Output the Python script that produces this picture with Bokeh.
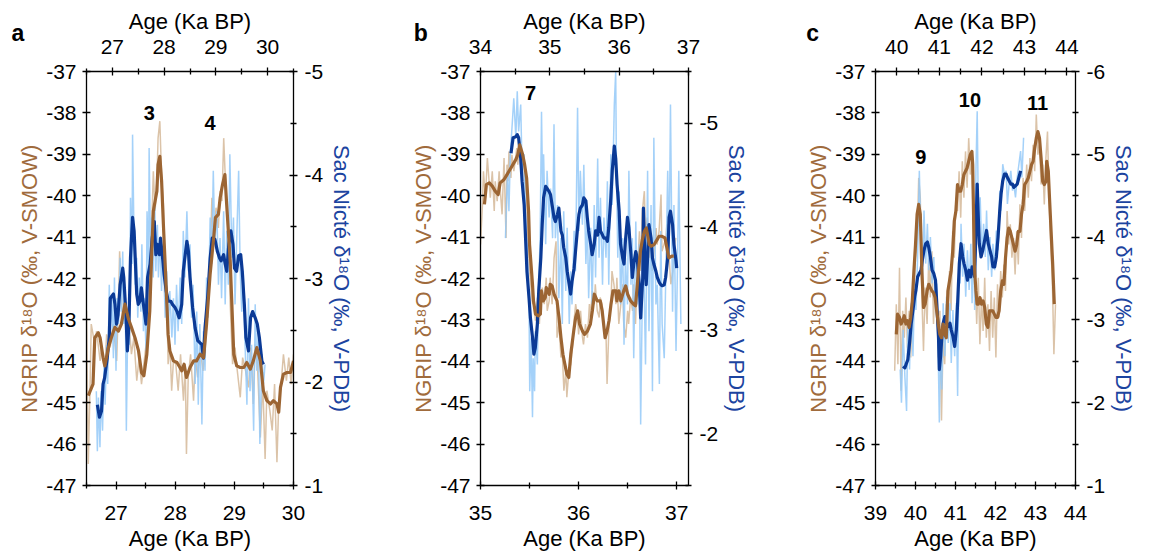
from bokeh.plotting import figure
from bokeh.models import Range1d, LinearAxis, FixedTicker, Label
from bokeh.layouts import row
from bokeh.embed import file_html
from bokeh.resources import INLINE

# ---------------- data (age ka BP, d18O permil) ----------------
# Panel a: NGRIP on bottom age axis / left axis; Sac Nicte on top age axis / right axis
A_NGRIP_RAW = [(26.50,-42.78),(26.53,-46.48),(26.56,-44.63),(26.58,-43.10),(26.64,-43.59),(26.67,-43.27),(26.73,-43.99),(26.75,-43.67),(26.81,-44.23),(26.84,-43.35),(26.90,-43.67),(26.95,-43.10),(27.01,-43.99),(27.04,-42.62),(27.06,-41.34),(27.11,-43.02),(27.15,-42.46),(27.19,-43.43),(27.22,-43.10),(27.26,-43.83),(27.30,-43.43),(27.35,-44.47),(27.39,-43.91),(27.43,-44.55),(27.47,-44.07),(27.52,-43.43),(27.56,-42.14),(27.60,-40.86),(27.63,-39.41),(27.66,-40.37),(27.69,-39.65),(27.71,-38.61),(27.74,-38.20),(27.77,-39.57),(27.80,-40.21),(27.83,-42.14),(27.86,-42.62),(27.88,-44.07),(27.91,-43.59),(27.94,-44.71),(27.97,-43.99),(28.01,-44.07),(28.05,-44.71),(28.09,-43.83),(28.14,-44.95),(28.17,-44.07),(28.19,-46.24),(28.22,-44.39),(28.26,-43.83),(28.31,-44.95),(28.34,-43.91),(28.38,-44.39),(28.42,-43.67),(28.47,-44.23),(28.51,-43.59),(28.55,-42.78),(28.59,-41.66),(28.62,-40.05),(28.65,-41.18),(28.69,-40.29),(28.73,-40.78),(28.76,-39.89),(28.79,-40.13),(28.82,-38.61),(28.84,-39.33),(28.87,-40.13),(28.90,-41.02),(28.93,-42.62),(28.97,-44.07),(29.01,-43.67),(29.05,-44.23),(29.10,-44.87),(29.14,-43.91),(29.19,-44.23),(29.24,-44.63),(29.28,-43.67),(29.32,-45.03),(29.35,-43.59),(29.39,-44.07),(29.44,-45.84),(29.48,-44.47),(29.52,-46.36),(29.55,-44.71),(29.60,-45.19),(29.64,-45.67),(29.68,-44.55),(29.72,-46.44),(29.75,-45.03),(29.79,-44.55),(29.83,-43.83),(29.88,-44.47),(29.92,-43.91),(29.96,-44.55),(30.00,-43.83)]
A_NGRIP_SMOOTH = [(26.53,-44.83),(26.61,-44.55),(26.64,-43.43),(26.70,-43.31),(26.73,-43.43),(26.78,-43.91),(26.81,-44.11),(26.87,-43.67),(26.92,-43.43),(26.98,-43.18),(27.04,-43.27),(27.09,-43.10),(27.15,-42.62),(27.21,-42.98),(27.26,-43.18),(27.32,-43.43),(27.38,-43.75),(27.43,-44.27),(27.47,-44.35),(27.52,-43.83),(27.57,-42.78),(27.60,-41.50),(27.63,-40.37),(27.66,-40.13),(27.69,-39.89),(27.71,-39.25),(27.74,-39.05),(27.77,-39.65),(27.80,-40.69),(27.84,-41.98),(27.88,-43.35),(27.91,-43.75),(27.97,-43.99),(28.03,-44.03),(28.08,-44.15),(28.11,-44.23),(28.15,-44.07),(28.19,-44.39),(28.25,-44.15),(28.31,-43.99),(28.36,-43.99),(28.42,-43.83),(28.48,-43.91),(28.53,-43.10),(28.59,-41.90),(28.65,-41.02),(28.68,-40.53),(28.73,-40.45),(28.76,-40.05),(28.80,-39.73),(28.84,-39.49),(28.87,-40.21),(28.93,-41.58),(28.99,-43.83),(29.04,-44.11),(29.10,-44.15),(29.16,-44.15),(29.21,-44.03),(29.27,-44.19),(29.32,-43.99),(29.38,-43.67),(29.44,-43.99),(29.49,-44.71),(29.55,-44.95),(29.61,-45.03),(29.66,-44.95),(29.72,-45.03),(29.75,-45.23),(29.78,-44.63),(29.83,-44.31),(29.89,-44.27),(29.95,-44.27),(30.00,-43.99)]
A_SAC_RAW = [(26.69,-1.91),(26.71,-1.33),(26.73,-1.85),(26.76,-1.37),(26.78,-1.91),(26.81,-1.53),(26.84,-2.17),(26.86,-1.78),(26.89,-2.36),(26.91,-1.98),(26.94,-2.94),(26.96,-2.49),(26.99,-2.81),(27.02,-2.23),(27.04,-3.01),(27.07,-2.11),(27.09,-2.81),(27.12,-2.56),(27.15,-3.20),(27.17,-2.68),(27.20,-3.26),(27.22,-2.56),(27.25,-2.81),(27.27,-1.53),(27.30,-2.68),(27.33,-2.36),(27.35,-3.78),(27.38,-3.14),(27.39,-4.39),(27.42,-3.33),(27.44,-2.94),(27.47,-3.20),(27.49,-2.62),(27.52,-3.01),(27.55,-2.68),(27.57,-3.33),(27.60,-2.49),(27.62,-2.81),(27.65,-2.30),(27.67,-3.65),(27.70,-3.07),(27.71,-4.26),(27.74,-3.20),(27.76,-3.59),(27.79,-3.01),(27.82,-3.71),(27.84,-3.07),(27.87,-3.52),(27.89,-3.01),(27.92,-3.39),(27.95,-2.88),(27.98,-3.33),(28.02,-2.62),(28.05,-3.07),(28.08,-2.49),(28.11,-2.88),(28.15,-2.43),(28.18,-2.81),(28.21,-2.36),(28.24,-2.94),(28.27,-2.49),(28.31,-3.01),(28.34,-2.56),(28.37,-3.46),(28.40,-3.01),(28.44,-3.65),(28.47,-3.07),(28.50,-3.33),(28.53,-2.62),(28.56,-2.94),(28.60,-1.98),(28.63,-2.68),(28.66,-1.78),(28.69,-2.56),(28.73,-1.59),(28.76,-2.49),(28.79,-2.11),(28.82,-3.01),(28.85,-2.62),(28.89,-3.59),(28.92,-3.14),(28.95,-4.04),(28.98,-3.33),(29.02,-3.65),(29.05,-2.94),(29.08,-3.39),(29.11,-2.81),(29.15,-3.65),(29.18,-2.75),(29.21,-3.46),(29.24,-2.94),(29.27,-4.20),(29.31,-3.20),(29.34,-3.59),(29.37,-2.75),(29.40,-3.33),(29.44,-4.04),(29.47,-3.07),(29.50,-2.68),(29.53,-3.07),(29.56,-2.43),(29.60,-1.78),(29.63,-2.81),(29.66,-1.91),(29.69,-2.36),(29.73,-1.53),(29.76,-2.75),(29.79,-2.11),(29.82,-2.49),(29.85,-1.40),(29.89,-2.27),(29.92,-1.98),(29.95,-2.17)]
A_SAC_SMOOTH = [(26.71,-1.78),(26.75,-1.66),(26.79,-1.72),(26.82,-1.98),(26.85,-2.04),(26.90,-2.23),(26.94,-2.43),(26.96,-2.81),(27.02,-2.85),(27.05,-2.75),(27.08,-2.56),(27.11,-2.65),(27.15,-2.94),(27.20,-3.10),(27.22,-3.01),(27.26,-2.68),(27.29,-2.30),(27.32,-2.56),(27.35,-3.20),(27.39,-3.59),(27.42,-3.46),(27.47,-2.85),(27.50,-2.75),(27.53,-2.78),(27.56,-2.91),(27.60,-2.75),(27.65,-2.56),(27.68,-3.01),(27.73,-3.14),(27.77,-3.39),(27.81,-3.55),(27.84,-3.23),(27.87,-3.33),(27.91,-3.23),(27.93,-3.39),(27.97,-3.20),(28.00,-3.04),(28.04,-2.88),(28.08,-2.78),(28.13,-2.78),(28.16,-2.75),(28.21,-2.72),(28.25,-2.68),(28.29,-2.62),(28.34,-2.75),(28.37,-3.07),(28.40,-3.20),(28.44,-3.36),(28.47,-3.26),(28.50,-3.01),(28.55,-2.72),(28.60,-2.52),(28.65,-2.40),(28.69,-2.38),(28.73,-2.36),(28.76,-2.23),(28.79,-2.52),(28.84,-2.81),(28.89,-3.20),(28.93,-3.39),(28.98,-3.38),(29.03,-3.26),(29.07,-3.20),(29.10,-3.17),(29.15,-3.23),(29.18,-3.14),(29.21,-3.07),(29.25,-3.33),(29.29,-3.46),(29.33,-3.33),(29.36,-3.10),(29.40,-3.07),(29.44,-3.22),(29.48,-3.23),(29.51,-3.07),(29.55,-2.75),(29.58,-2.43),(29.63,-2.30),(29.67,-2.62),(29.71,-2.68),(29.76,-2.62),(29.80,-2.56),(29.84,-2.43),(29.89,-2.20),(29.92,-2.17)]

# Panel b
B_NGRIP_RAW = [(35.00,-41.18),(35.02,-40.21),(35.03,-39.41),(35.05,-40.05),(35.07,-39.09),(35.09,-39.73),(35.10,-40.05),(35.12,-39.41),(35.14,-40.37),(35.15,-39.65),(35.17,-40.13),(35.19,-39.41),(35.20,-39.81),(35.22,-40.45),(35.24,-39.09),(35.26,-41.02),(35.27,-39.25),(35.28,-39.65),(35.29,-38.93),(35.31,-39.57),(35.32,-39.01),(35.34,-39.41),(35.37,-38.85),(35.38,-39.25),(35.40,-38.69),(35.41,-39.33),(35.44,-39.09),(35.45,-39.57),(35.47,-40.05),(35.48,-40.86),(35.50,-41.82),(35.53,-42.62),(35.54,-42.46),(35.56,-43.02),(35.58,-42.46),(35.60,-43.10),(35.61,-42.62),(35.63,-42.22),(35.65,-42.62),(35.67,-41.98),(35.68,-42.78),(35.70,-42.54),(35.71,-41.98),(35.73,-42.62),(35.75,-41.50),(35.77,-41.10),(35.78,-43.43),(35.80,-43.10),(35.82,-43.91),(35.83,-43.59),(35.85,-44.71),(35.87,-44.23),(35.88,-44.87),(35.90,-44.23),(35.92,-44.07),(35.94,-43.59),(35.95,-43.10),(35.97,-42.62),(35.99,-42.94),(36.00,-43.35),(36.02,-42.78),(36.04,-43.43),(36.05,-43.59),(36.07,-43.10),(36.09,-43.43),(36.11,-42.62),(36.12,-42.94),(36.14,-42.30),(36.16,-42.62),(36.17,-42.14),(36.19,-42.78),(36.21,-42.94),(36.22,-42.46),(36.24,-42.62),(36.26,-43.27),(36.28,-43.43),(36.29,-44.55),(36.31,-43.10),(36.33,-42.62),(36.34,-41.82),(36.36,-42.14),(36.38,-42.62),(36.39,-41.98),(36.41,-43.10),(36.43,-42.62),(36.45,-42.14),(36.46,-43.10),(36.48,-43.43),(36.50,-42.78),(36.51,-43.10),(36.53,-42.46),(36.55,-42.78),(36.56,-42.14),(36.58,-43.10),(36.60,-41.82),(36.62,-40.86),(36.63,-41.82),(36.65,-40.37),(36.67,-39.89),(36.68,-40.86),(36.70,-40.53),(36.72,-41.50),(36.73,-41.02),(36.75,-41.82),(36.77,-41.34),(36.79,-40.78),(36.80,-41.18),(36.82,-40.86),(36.84,-39.97),(36.85,-41.34),(36.87,-41.18),(36.89,-41.02),(36.90,-40.69),(36.94,-42.14),(36.96,-41.82),(36.97,-41.34),(36.99,-41.02)]
B_NGRIP_SMOOTH = [(35.04,-40.21),(35.06,-39.73),(35.09,-39.69),(35.12,-39.77),(35.15,-39.89),(35.18,-39.97),(35.20,-39.69),(35.22,-39.65),(35.24,-39.61),(35.27,-39.49),(35.29,-39.41),(35.31,-39.33),(35.33,-39.25),(35.36,-39.13),(35.38,-39.01),(35.40,-38.77),(35.43,-39.01),(35.45,-39.25),(35.47,-39.57),(35.49,-40.37),(35.50,-41.18),(35.53,-42.14),(35.54,-42.54),(35.56,-42.86),(35.59,-42.90),(35.61,-42.86),(35.62,-42.30),(35.64,-42.54),(35.66,-42.46),(35.67,-42.22),(35.70,-42.38),(35.71,-42.14),(35.73,-42.18),(35.75,-42.38),(35.78,-42.54),(35.80,-42.94),(35.82,-43.43),(35.84,-43.83),(35.86,-44.07),(35.88,-44.31),(35.90,-44.39),(35.92,-43.83),(35.95,-43.27),(35.97,-42.94),(35.99,-42.78),(36.01,-43.10),(36.04,-43.27),(36.06,-43.35),(36.09,-43.27),(36.12,-43.10),(36.14,-42.78),(36.16,-42.38),(36.19,-42.54),(36.22,-42.54),(36.24,-42.78),(36.27,-43.43),(36.29,-43.27),(36.31,-43.02),(36.33,-42.62),(36.35,-42.30),(36.38,-42.30),(36.39,-42.54),(36.41,-42.30),(36.43,-42.54),(36.46,-42.30),(36.48,-42.18),(36.50,-42.38),(36.53,-42.54),(36.56,-42.62),(36.58,-42.66),(36.61,-41.82),(36.63,-41.34),(36.65,-41.06),(36.67,-40.86),(36.69,-40.78),(36.72,-41.18),(36.74,-41.22),(36.77,-41.18),(36.80,-41.06),(36.82,-40.98),(36.85,-40.98),(36.88,-41.02),(36.90,-41.26),(36.92,-41.50),(36.95,-41.46),(36.97,-41.46)]
B_SAC_RAW = [(34.36,-3.89),(34.39,-4.54),(34.41,-4.15),(34.43,-4.70),(34.46,-5.02),(34.48,-5.24),(34.51,-4.86),(34.53,-5.31),(34.55,-4.92),(34.58,-5.18),(34.60,-4.54),(34.63,-4.70),(34.65,-4.05),(34.67,-3.83),(34.70,-3.25),(34.71,-2.41),(34.73,-2.93),(34.75,-2.16),(34.76,-2.73),(34.78,-2.41),(34.79,-2.99),(34.82,-2.67),(34.84,-3.44),(34.86,-3.89),(34.88,-5.11),(34.90,-4.15),(34.91,-4.70),(34.94,-3.83),(34.96,-4.54),(34.99,-4.09),(35.01,-4.37),(35.04,-3.89),(35.06,-4.99),(35.08,-3.89),(35.11,-4.21),(35.13,-3.31),(35.16,-3.89),(35.18,-3.06),(35.20,-4.15),(35.23,-3.38),(35.25,-3.99),(35.28,-3.06),(35.30,-3.57),(35.32,-3.25),(35.35,-3.96),(35.37,-3.57),(35.40,-5.15),(35.42,-3.96),(35.44,-4.54),(35.47,-4.02),(35.49,-4.60),(35.52,-3.64),(35.54,-4.09),(35.56,-3.31),(35.59,-3.99),(35.61,-3.25),(35.64,-4.21),(35.66,-3.51),(35.69,-4.66),(35.71,-3.70),(35.73,-4.28),(35.76,-3.44),(35.78,-4.09),(35.81,-3.70),(35.83,-4.44),(35.85,-3.44),(35.88,-4.70),(35.90,-4.21),(35.93,-5.18),(35.95,-5.50),(35.96,-4.60),(35.98,-3.70),(36.00,-4.34),(36.02,-3.25),(36.05,-3.89),(36.07,-2.86),(36.09,-3.70),(36.12,-3.25),(36.14,-4.54),(36.17,-3.44),(36.19,-3.89),(36.21,-2.73),(36.24,-4.05),(36.26,-3.25),(36.29,-3.83),(36.31,-2.09),(36.34,-3.64),(36.36,-3.44),(36.38,-2.67),(36.41,-4.54),(36.43,-2.99),(36.46,-4.21),(36.48,-2.41),(36.50,-4.86),(36.53,-3.25),(36.55,-3.44),(36.58,-2.48),(36.60,-3.96),(36.62,-3.06),(36.65,-2.73),(36.67,-3.44),(36.70,-4.54),(36.72,-3.70),(36.74,-5.18),(36.77,-3.18),(36.79,-4.21),(36.82,-2.80),(36.84,-3.57),(36.86,-4.54),(36.89,-3.06)]
B_SAC_SMOOTH = [(34.44,-4.71),(34.47,-4.86),(34.51,-4.87),(34.53,-4.89),(34.55,-4.86),(34.58,-4.66),(34.60,-4.44),(34.63,-4.21),(34.65,-3.89),(34.67,-3.57),(34.70,-3.31),(34.72,-3.12),(34.75,-2.93),(34.77,-2.77),(34.79,-2.83),(34.82,-3.06),(34.84,-3.38),(34.87,-3.70),(34.89,-4.02),(34.91,-4.28),(34.94,-4.39),(34.96,-4.37),(34.99,-4.34),(35.01,-4.31),(35.04,-4.18),(35.06,-4.09),(35.08,-4.05),(35.11,-4.12),(35.13,-4.18),(35.16,-3.96),(35.18,-3.92),(35.20,-3.80),(35.23,-3.70),(35.25,-3.57),(35.28,-3.44),(35.30,-3.35),(35.32,-3.47),(35.35,-3.60),(35.37,-3.76),(35.40,-3.99),(35.42,-4.12),(35.44,-4.18),(35.47,-4.21),(35.49,-4.28),(35.52,-4.25),(35.54,-4.09),(35.56,-3.96),(35.59,-3.83),(35.61,-3.73),(35.64,-3.83),(35.66,-3.96),(35.69,-3.92),(35.71,-4.09),(35.73,-3.96),(35.76,-3.92),(35.78,-3.89),(35.81,-3.89),(35.83,-3.86),(35.85,-3.99),(35.88,-4.28),(35.90,-4.54),(35.93,-4.78),(35.95,-4.66),(35.97,-4.41),(36.00,-4.15),(36.02,-3.83),(36.05,-3.70),(36.07,-3.64),(36.09,-3.86),(36.12,-4.09),(36.14,-3.99),(36.17,-3.73),(36.19,-3.51),(36.21,-3.64),(36.24,-3.76),(36.26,-3.70),(36.29,-3.44),(36.31,-3.12),(36.34,-3.51),(36.35,-4.18),(36.37,-3.70),(36.39,-3.44),(36.41,-3.70),(36.43,-4.02),(36.46,-3.89),(36.48,-3.70),(36.50,-3.64),(36.53,-3.57),(36.55,-3.51),(36.58,-3.46),(36.60,-3.44),(36.62,-3.43),(36.65,-3.44),(36.67,-3.51),(36.70,-3.70),(36.72,-4.09),(36.74,-4.15),(36.77,-4.02),(36.79,-3.83),(36.82,-3.67),(36.83,-3.60)]

# Panel c
C_NGRIP_RAW = [(39.48,-44.23),(39.52,-42.62),(39.56,-44.07),(39.60,-41.74),(39.64,-44.71),(39.68,-42.78),(39.72,-43.43),(39.76,-42.46),(39.80,-43.67),(39.84,-42.78),(39.88,-43.91),(39.92,-42.78),(39.96,-42.30),(40.00,-41.50),(40.04,-41.18),(40.08,-39.57),(40.12,-40.05),(40.16,-42.46),(40.20,-43.75),(40.24,-42.22),(40.29,-43.10),(40.33,-41.50),(40.37,-42.46),(40.41,-41.34),(40.45,-43.10),(40.49,-41.98),(40.53,-42.62),(40.57,-43.91),(40.61,-42.78),(40.65,-45.43),(40.69,-43.43),(40.73,-44.07),(40.77,-42.62),(40.81,-43.18),(40.85,-41.82),(40.89,-42.78),(40.93,-40.86),(40.97,-41.50),(41.01,-40.05),(41.05,-40.37),(41.09,-39.41),(41.13,-40.53),(41.17,-39.17),(41.21,-40.05),(41.25,-38.93),(41.29,-39.81),(41.33,-38.61),(41.37,-39.49),(41.41,-39.09),(41.45,-41.02),(41.49,-41.98),(41.53,-43.10),(41.57,-41.98),(41.61,-43.59),(41.65,-42.46),(41.69,-43.27),(41.73,-41.98),(41.77,-43.43),(41.81,-42.62),(41.85,-43.75),(41.89,-42.30),(41.93,-43.43),(41.97,-42.46),(42.01,-43.91),(42.05,-42.14),(42.09,-42.94),(42.13,-41.82),(42.17,-42.46),(42.21,-41.66),(42.25,-42.30),(42.29,-40.37),(42.33,-41.18),(42.37,-40.69),(42.41,-41.50),(42.45,-41.02),(42.49,-41.90),(42.53,-40.86),(42.57,-41.66),(42.61,-40.21),(42.65,-41.02),(42.69,-39.57),(42.73,-40.37),(42.78,-39.25),(42.82,-40.05),(42.86,-39.09),(42.90,-39.65),(42.94,-38.77),(42.98,-39.41),(43.02,-38.04),(43.06,-39.01),(43.10,-38.77),(43.14,-39.73),(43.18,-39.25),(43.22,-40.21),(43.26,-39.09),(43.30,-38.45),(43.34,-40.05),(43.38,-41.18),(43.42,-41.98),(43.46,-43.83),(43.50,-42.62)]
C_NGRIP_SMOOTH = [(39.52,-43.35),(39.55,-42.86),(39.60,-42.94),(39.64,-43.10),(39.68,-43.02),(39.72,-42.90),(39.76,-43.10),(39.80,-43.02),(39.84,-43.18),(39.88,-42.94),(39.92,-42.54),(39.96,-41.82),(40.00,-41.18),(40.04,-40.45),(40.08,-40.21),(40.12,-40.45),(40.16,-41.82),(40.20,-42.70),(40.24,-42.62),(40.29,-42.30),(40.33,-42.14),(40.37,-42.22),(40.41,-42.30),(40.45,-42.34),(40.49,-42.46),(40.53,-42.78),(40.57,-43.10),(40.61,-43.35),(40.65,-43.43),(40.69,-43.10),(40.73,-43.35),(40.77,-43.43),(40.81,-42.30),(40.85,-42.06),(40.89,-41.82),(40.93,-41.34),(40.97,-40.61),(41.01,-40.37),(41.05,-39.73),(41.09,-39.89),(41.13,-39.89),(41.17,-39.73),(41.21,-39.49),(41.25,-39.41),(41.29,-39.33),(41.33,-39.17),(41.37,-39.01),(41.41,-38.93),(41.43,-39.25),(41.45,-40.37),(41.47,-41.66),(41.51,-42.30),(41.54,-42.62),(41.57,-42.62),(41.61,-42.46),(41.65,-42.62),(41.69,-42.54),(41.73,-42.70),(41.77,-43.10),(41.81,-43.18),(41.85,-42.78),(41.89,-42.78),(41.93,-42.78),(41.97,-42.86),(42.01,-42.94),(42.05,-42.94),(42.09,-42.78),(42.13,-42.30),(42.17,-42.06),(42.21,-42.14),(42.25,-41.50),(42.29,-41.02),(42.33,-40.78),(42.37,-40.86),(42.41,-41.02),(42.45,-41.18),(42.49,-41.34),(42.53,-41.18),(42.57,-40.86),(42.61,-40.86),(42.65,-40.45),(42.69,-40.21),(42.73,-39.73),(42.78,-39.65),(42.82,-39.57),(42.86,-39.41),(42.90,-39.25),(42.94,-39.17),(42.98,-38.85),(43.02,-38.61),(43.06,-38.45),(43.10,-38.61),(43.14,-39.09),(43.18,-39.65),(43.22,-39.73),(43.26,-39.65),(43.28,-39.17),(43.32,-39.41),(43.35,-40.05),(43.39,-40.86),(43.43,-41.66),(43.47,-42.62)]
C_SAC_RAW = [(40.08,-2.40),(40.11,-2.00),(40.15,-2.88),(40.19,-2.32),(40.23,-1.90),(40.26,-2.96),(40.30,-2.40),(40.34,-3.20),(40.38,-2.56),(40.42,-3.44),(40.45,-3.12),(40.49,-3.76),(40.53,-4.80),(40.57,-3.92),(40.60,-3.44),(40.64,-4.32),(40.68,-3.68),(40.72,-4.16),(40.75,-3.60),(40.79,-4.00),(40.83,-3.44),(40.87,-3.76),(40.91,-3.12),(40.94,-3.44),(40.98,-2.40),(41.00,-1.76),(41.03,-2.72),(41.06,-2.16),(41.09,-3.20),(41.13,-2.56),(41.17,-3.28),(41.21,-2.72),(41.25,-3.20),(41.28,-2.48),(41.32,-3.12),(41.36,-2.56),(41.40,-3.20),(41.43,-2.08),(41.46,-3.76),(41.49,-3.44),(41.51,-4.16),(41.55,-3.52),(41.58,-3.92),(41.62,-3.28),(41.66,-3.84),(41.70,-3.36),(41.74,-3.92),(41.77,-3.20),(41.81,-4.08),(41.83,-3.12),(41.86,-4.80),(41.89,-5.52),(41.92,-4.16),(41.96,-4.48),(42.00,-3.76),(42.04,-4.16),(42.08,-3.76),(42.11,-4.32),(42.15,-3.60),(42.19,-4.00),(42.23,-3.52),(42.26,-3.92),(42.30,-3.60),(42.34,-4.08),(42.38,-3.84),(42.42,-4.56),(42.45,-4.32),(42.49,-4.88),(42.53,-4.76),(42.57,-4.80),(42.60,-4.40),(42.64,-4.64),(42.68,-4.80),(42.72,-4.56),(42.75,-4.64),(42.79,-4.48),(42.83,-4.72),(42.87,-4.88),(42.91,-5.04),(42.94,-4.72),(42.98,-5.20)]
C_SAC_SMOOTH = [(40.15,-2.44),(40.19,-2.42),(40.23,-2.48),(40.26,-2.52),(40.30,-2.72),(40.34,-2.96),(40.38,-3.12),(40.42,-3.28),(40.45,-3.36),(40.49,-3.52),(40.53,-3.56),(40.57,-3.60),(40.60,-3.72),(40.64,-3.84),(40.68,-3.92),(40.72,-3.94),(40.75,-3.88),(40.79,-3.76),(40.83,-3.60),(40.87,-3.56),(40.91,-3.48),(40.94,-3.20),(40.98,-2.80),(41.00,-2.40),(41.03,-2.56),(41.06,-2.80),(41.09,-2.96),(41.13,-3.04),(41.17,-2.96),(41.21,-2.92),(41.25,-2.96),(41.28,-2.88),(41.32,-2.80),(41.36,-2.68),(41.40,-2.88),(41.43,-3.20),(41.47,-3.68),(41.51,-3.92),(41.55,-3.76),(41.58,-3.68),(41.62,-3.60),(41.66,-3.48),(41.70,-3.60),(41.74,-3.52),(41.77,-3.64),(41.81,-3.60),(41.83,-3.52),(41.86,-4.08),(41.89,-4.64),(41.91,-4.32),(41.94,-3.92),(41.98,-3.76),(42.02,-3.84),(42.05,-3.92),(42.08,-4.00),(42.11,-4.08),(42.15,-3.92),(42.19,-3.84),(42.23,-3.76),(42.26,-3.64),(42.30,-3.64),(42.34,-3.76),(42.38,-4.00),(42.42,-4.32),(42.45,-4.52),(42.49,-4.68),(42.53,-4.76),(42.57,-4.76),(42.60,-4.72),(42.64,-4.68),(42.68,-4.64),(42.72,-4.64),(42.75,-4.60),(42.79,-4.62),(42.83,-4.64),(42.87,-4.72),(42.91,-4.80)]

# Interstadial numbers (placed at NGRIP age / NGRIP d18O)
A_EVENTS = [("3", 27.56, -38.01), ("4", 28.59, -38.25)]
B_EVENTS = [("7", 35.51, -37.53)]
C_EVENTS = [("9", 40.13, -39.07), ("10", 41.36, -37.70), ("11", 43.05, -37.75)]

# Axis ticks
NGRIP_TICKS = [-47, -46, -45, -44, -43, -42, -41, -40, -39, -38, -37]

FONT = "Liberation Sans"
BROWN = "#9c6533"
BROWN_LIGHT = "#d7bd9f"
BLUE = "#0b3a96"
BLUE_LIGHT = "#94c9f8"
BROWN_TXT = "#a06b3c"
BLUE_TXT = "#1c44a0"

NGRIP_LABEL = "NGRIP δ¹⁸O (‰, V-SMOW)"
SAC_LABEL = "Sac Nicté δ¹⁸O (‰, V-PDB)"
AGE_LABEL = "Age (Ka BP)"


def hyphen_labels(ticks):
    return {t: ("%g" % t) for t in ticks}


def style_axis(ax, major, minor, label=None, label_color="black", standoff=7, label_standoff=6):
    ax.ticker = FixedTicker(ticks=major, minor_ticks=minor)
    ax.major_label_overrides = hyphen_labels(major)
    ax.major_tick_in = 4
    ax.major_tick_out = 4
    ax.minor_tick_in = 3
    ax.minor_tick_out = 3
    ax.axis_line_width = 1.3
    ax.major_tick_line_width = 1.3
    ax.minor_tick_line_width = 1.3
    ax.major_label_text_font = FONT
    ax.major_label_text_font_size = "21px"
    ax.major_label_text_color = "black"
    ax.major_label_standoff = standoff
    if label:
        ax.axis_label = label
        ax.axis_label_text_font = FONT
        ax.axis_label_text_font_size = "22px"
        ax.axis_label_text_font_style = "normal"
        ax.axis_label_text_color = label_color
        ax.axis_label_standoff = label_standoff


def unzip(pairs):
    return [a for a, _ in pairs], [b for _, b in pairs]


def panel(letter, letter_pos, xb, xt, yr, xb_ticks, xt_ticks, yr_ticks,
          ng_raw, ng_sm, sac_raw, sac_sm, events, width, right_border):
    p = figure(width=width, height=553,
               x_range=Range1d(*xb), y_range=Range1d(-47, -37),
               output_backend="svg", toolbar_location=None,
               x_axis_location=None, y_axis_location=None,
               min_border_left=86, min_border_right=right_border,
               min_border_top=71, min_border_bottom=67)
    p.extra_x_ranges = {"top": Range1d(*xt)}
    p.extra_y_ranges = {"right": Range1d(*yr)}
    p.xgrid.visible = False
    p.ygrid.visible = False
    p.outline_line_color = None
    p.background_fill_color = "white"
    p.border_fill_color = "white"

    bottom = LinearAxis()
    style_axis(bottom, xb_ticks[0], xb_ticks[1], AGE_LABEL, standoff=16, label_standoff=3)
    p.add_layout(bottom, "below")
    top = LinearAxis(x_range_name="top")
    style_axis(top, xt_ticks[0], xt_ticks[1], AGE_LABEL, standoff=14, label_standoff=3)
    p.add_layout(top, "above")
    left = LinearAxis()
    style_axis(left, NGRIP_TICKS, [], NGRIP_LABEL, BROWN_TXT, standoff=6, label_standoff=1)
    p.add_layout(left, "left")
    right = LinearAxis(y_range_name="right")
    style_axis(right, yr_ticks[0], yr_ticks[1], SAC_LABEL, BLUE_TXT, standoff=7, label_standoff=3)
    p.add_layout(right, "right")

    x, y = unzip(ng_raw)
    p.line(x, y, line_color=BROWN_LIGHT, line_width=1.5, line_alpha=0.9)
    x, y = unzip(sac_raw)
    p.line(x, y, line_color=BLUE_LIGHT, line_width=1.5, line_alpha=0.85,
           x_range_name="top", y_range_name="right")
    x, y = unzip(sac_sm)
    p.line(x, y, line_color=BLUE, line_width=3.2, line_join="round",
           x_range_name="top", y_range_name="right")
    x, y = unzip(ng_sm)
    p.line(x, y, line_color=BROWN, line_width=3.2, line_join="round")

    for txt, ex, ey in events:
        p.add_layout(Label(x=ex, y=ey, text=txt, text_font=FONT, text_font_size="20px",
                           text_font_style="bold", text_align="center",
                           text_baseline="middle", text_color="black"))
    # panel letter lives outside the frame, so it goes into a side panel (not clipped)
    p.add_layout(Label(x=letter_pos[0], y=letter_pos[1], text=letter, text_font=FONT,
                       text_font_size="23px", text_font_style="bold",
                       text_align="center", text_baseline="middle", text_color="black"),
                 "right")
    return p


pa = panel("a", (25.34, -36.06), (26.5, 30.0), (26.5, 30.5), (-1, -5),
           ([27, 28, 29, 30], [26.5, 27.5, 28.5, 29.5]),
           ([27, 28, 29, 30], [26.5, 27.5, 28.5, 29.5, 30.5]),
           ([-5, -4, -3, -2, -1], [-4.5, -3.5, -2.5, -1.5]),
           A_NGRIP_RAW, A_NGRIP_SMOOTH, A_SAC_RAW, A_SAC_SMOOTH, A_EVENTS, 394, 101)
pb = panel("b", (34.39, -36.06), (35.0, 37.12), (34.0, 37.0), (-1.5, -5.5),
           ([35, 36, 37], [35.5, 36.5]),
           ([34, 35, 36, 37], [34.5, 35.5, 36.5]),
           ([-5, -4, -3, -2], [-5.5, -4.5, -3.5, -2.5, -1.5]),
           B_NGRIP_RAW, B_NGRIP_SMOOTH, B_SAC_RAW, B_SAC_SMOOTH, B_EVENTS, 395, 101)
pc = panel("c", (37.43, -36.06), (39.0, 44.0), (39.5, 44.2), (-1, -6),
           ([39, 40, 41, 42, 43, 44], [39.5, 40.5, 41.5, 42.5, 43.5]),
           ([40, 41, 42, 43, 44], [39.5, 40.5, 41.5, 42.5, 43.5]),
           ([-6, -5, -4, -3, -2, -1], [-5.5, -4.5, -3.5, -2.5, -1.5]),
           C_NGRIP_RAW, C_NGRIP_SMOOTH, C_SAC_RAW, C_SAC_SMOOTH, C_EVENTS, 363, 70)

layout = row(pa, pb, pc)
open("out.html", "w").write(file_html(layout, INLINE))
